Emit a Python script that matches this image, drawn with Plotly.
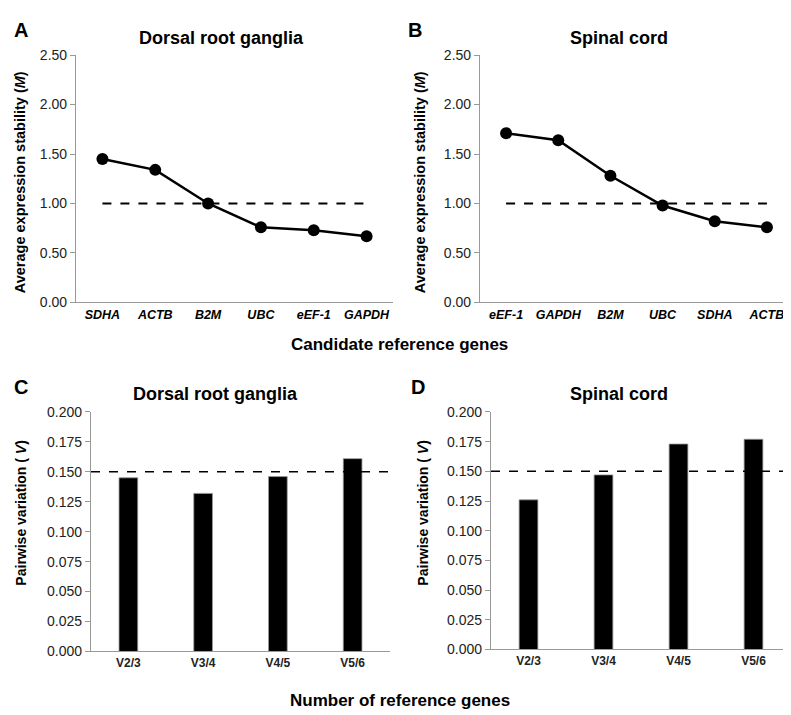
import plotly.graph_objects as go

# panel A / B: geNorm M values
genes_drg = ["SDHA", "ACTB", "B2M", "UBC", "eEF-1", "GAPDH"]
m_drg = [1.45, 1.34, 1.00, 0.76, 0.73, 0.67]
genes_sc = ["eEF-1", "GAPDH", "B2M", "UBC", "SDHA", "ACTB"]
m_sc = [1.71, 1.64, 1.28, 0.98, 0.82, 0.76]
m_cutoff = 1.0
m_ticks = [0, 0.5, 1.0, 1.5, 2.0, 2.5]

# panel C / D: pairwise variation
pairs = ["V2/3", "V3/4", "V4/5", "V5/6"]
v_drg = [0.145, 0.132, 0.146, 0.161]
v_sc = [0.126, 0.147, 0.173, 0.177]
v_cutoff = 0.15
v_ticks = [0, 0.025, 0.05, 0.075, 0.1, 0.125, 0.15, 0.175, 0.2]

W, H = 791, 715
FONT = "Liberation Sans, Arial, sans-serif"


def px_x(a, b):
    return [a / W, b / W]


def px_y(top, bottom):
    return [1 - bottom / H, 1 - top / H]


fig = go.Figure()

# line panels
for i, (genes, vals) in enumerate([(genes_drg, m_drg), (genes_sc, m_sc)], start=1):
    xa = "x" if i == 1 else "x%d" % i
    ya = "y" if i == 1 else "y%d" % i
    fig.add_trace(go.Scatter(x=genes, y=vals, mode="lines+markers",
                             line=dict(color="black", width=2.5),
                             marker=dict(color="black", size=12),
                             xaxis=xa, yaxis=ya, showlegend=False))
    fig.add_trace(go.Scatter(x=[genes[0], genes[-1]], y=[m_cutoff, m_cutoff],
                             mode="lines", line=dict(color="black", width=1.8, dash="dash"),
                             xaxis=xa, yaxis=ya, showlegend=False, hoverinfo="skip"))

# bar panels
for i, vals in [(3, v_drg), (4, v_sc)]:
    fig.add_trace(go.Bar(x=pairs, y=vals, width=0.25, marker=dict(color="black", line=dict(color="#999", width=0.8)),
                         xaxis="x%d" % i, yaxis="y%d" % i, showlegend=False))
    fig.add_shape(type="line", xref="x%d domain" % i, yref="y%d" % i, x0=0, x1=1,
                  y0=v_cutoff, y1=v_cutoff, line=dict(color="black", width=1.5, dash="dash"))

axis_common = dict(showgrid=False, zeroline=False, showline=True, linecolor="#999", linewidth=1.2)
ytick_font = dict(family=FONT, size=14, color="#222")

fig.update_layout(
    width=W, height=H, margin=dict(l=0, r=0, t=0, b=0),
    plot_bgcolor="white", paper_bgcolor="white",
    font=dict(family=FONT, color="black"),
    xaxis=dict(domain=px_x(68, 385), anchor="y", range=[-0.5, 5.5], ticks="",
               categoryorder="array", categoryarray=genes_drg,
               tickfont=dict(family=FONT, size=12.5, color="black"), **axis_common),
    yaxis=dict(domain=px_y(40, 293), anchor="x", range=[0, 2.5], tickvals=m_ticks, tickformat=".2f",
               ticks="outside", ticklen=5, tickcolor="#999", tickfont=ytick_font, **axis_common),
    xaxis2=dict(domain=px_x(472, 785), anchor="y2", range=[-0.5, 5.5], ticks="",
                categoryorder="array", categoryarray=genes_sc,
                tickfont=dict(family=FONT, size=12.5, color="black"), **axis_common),
    yaxis2=dict(domain=px_y(40, 293), anchor="x2", range=[0, 2.5], tickvals=m_ticks, tickformat=".2f",
                ticks="outside", ticklen=5, tickcolor="#999", tickfont=ytick_font, **axis_common),
    xaxis3=dict(domain=px_x(83, 382), anchor="y3", range=[-0.5, 3.5], ticks="",
                tickfont=dict(family=FONT, size=12, color="#222"), **axis_common),
    yaxis3=dict(domain=px_y(405, 650), anchor="x3", range=[0, 0.2], tickvals=v_ticks, tickformat=".3f",
                ticks="outside", ticklen=5, tickcolor="#999", tickfont=ytick_font, **axis_common),
    xaxis4=dict(domain=px_x(483, 783), anchor="y4", range=[-0.5, 3.5], ticks="",
                tickfont=dict(family=FONT, size=12, color="#222"), **axis_common),
    yaxis4=dict(domain=px_y(405, 648), anchor="x4", range=[0, 0.2], tickvals=v_ticks, tickformat=".3f",
                ticks="outside", ticklen=5, tickcolor="#999", tickfont=ytick_font, **axis_common),
)

# bold italic gene names
for xa in ["xaxis", "xaxis2"]:
    genes = genes_drg if xa == "xaxis" else genes_sc
    fig.layout[xa].tickvals = genes
    fig.layout[xa].ticktext = ["<b><i>%s</i></b>" % g for g in genes]
for xa in ["xaxis3", "xaxis4"]:
    fig.layout[xa].tickvals = pairs
    fig.layout[xa].ticktext = ["<b>%s</b>" % p for p in pairs]


def note(text, x, y, size, angle=0, anchor="center"):
    fig.add_annotation(text=text, x=x / W, y=1 - y / H, xref="paper", yref="paper",
                       showarrow=False, textangle=angle, xanchor=anchor, yanchor="middle",
                       font=dict(family=FONT, size=size, color="black"))


note("<b>A</b>", 4, 14, 20, anchor="left")
note("<b>B</b>", 398, 14, 20, anchor="left")
note("<b>C</b>", 4, 380, 20, anchor="left")
note("<b>D</b>", 401, 380, 20, anchor="left")

note("<b>Dorsal root ganglia</b>", 213, 22, 18)
note("<b>Spinal cord</b>", 611, 22, 18)
note("<b>Dorsal root ganglia</b>", 208, 387, 18)
note("<b>Spinal cord</b>", 611, 387, 18)

note("<b>Average expression stability (<i>M</i>)</b>", 12, 170, 14.5, angle=-90)
note("<b>Average expression stability (<i>M</i>)</b>", 412, 170, 14.5, angle=-90)
note("<b>Pairwise variation ( <i>V</i>)</b>", 13, 508, 14, angle=-90)
note("<b>Pairwise variation ( <i>V</i>)</b>", 415, 508, 14, angle=-90)

note("<b>Candidate reference genes</b>", 391, 336, 17)
note("<b>Number of reference genes</b>", 392, 700, 17)

fig.write_html("out.html")
